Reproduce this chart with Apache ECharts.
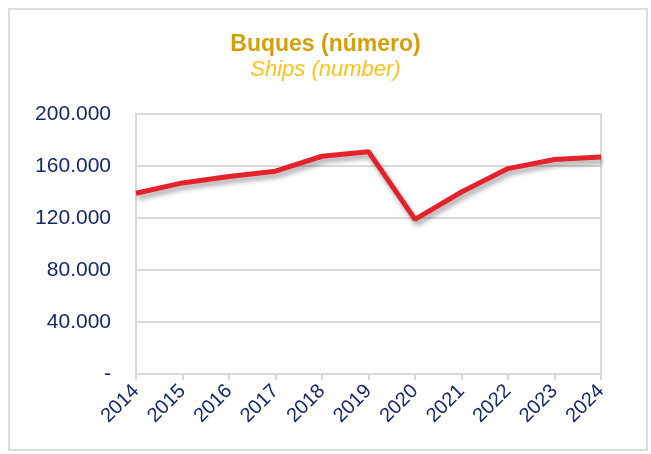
<!DOCTYPE html>
<html lang="es">
<head>
    <meta charset="UTF-8">
    <title>Buques (número)</title>
    <script src="https://cdn.jsdelivr.net/npm/echarts@6/dist/echarts.min.js"></script>
    <style>
        * { margin: 0; padding: 0; box-sizing: border-box; }
        body { background: #ffffff; }
        #chart { width: 651px; height: 454px; }
    </style>
</head>
<body>
    <div id="chart"></div>
    <script>
        // data
        const years = ['2014', '2015', '2016', '2017', '2018', '2019', '2020', '2021', '2022', '2023', '2024'];
        const ships = [139000, 147000, 152000, 156000, 167500, 171000, 119000, 140000, 158000, 165000, 167000];
        const yTicks = { min: 0, max: 200000, step: 40000 };

        const navy = '#13296b';
        const gridGrey = '#d9d9d9';

        // 160000 -> "160.000", 0 -> "-"
        function fmt(v) {
            if (v === 0) return '-';
            return String(v).replace(/\B(?=(\d{3})+(?!\d))/g, '.');
        }

        const chart = echarts.init(document.getElementById('chart'));
        chart.setOption({
            animation: false,
            title: {
                text: 'Buques (número)',
                subtext: 'Ships (number)',
                left: 'center',
                top: 28,
                itemGap: 3,
                textStyle: { fontFamily: 'Liberation Sans', fontSize: 23, fontWeight: 'bold', color: '#d39f0a' },
                subtextStyle: { fontFamily: 'Liberation Sans', fontSize: 22, fontStyle: 'italic', color: '#ffc21a' }
            },
            graphic: [{
                type: 'rect',
                shape: { x: 9, y: 9, width: 638, height: 441 },
                style: { fill: 'none', stroke: '#dcdcdc', lineWidth: 2 },
                silent: true
            }],
            grid: {
                left: 136, right: 50, top: 114, bottom: 80,
                show: true, borderColor: gridGrey, borderWidth: 2
            },
            xAxis: {
                type: 'category',
                data: years,
                boundaryGap: false,
                axisLine: { lineStyle: { color: gridGrey, width: 2 } },
                axisTick: { show: true, length: 6, lineStyle: { color: gridGrey, width: 2 } },
                axisLabel: {
                    rotate: 45, margin: 14, color: navy,
                    fontFamily: 'Liberation Sans', fontSize: 20
                }
            },
            yAxis: {
                type: 'value',
                min: yTicks.min, max: yTicks.max, interval: yTicks.step,
                axisLine: { show: false },
                axisTick: { show: false },
                splitLine: { lineStyle: { color: gridGrey, width: 2 } },
                axisLabel: {
                    margin: 25, color: navy,
                    fontFamily: 'Liberation Sans', fontSize: 21,
                    formatter: fmt
                }
            },
            series: [{
                type: 'line',
                data: ships,
                symbol: 'none',
                lineStyle: {
                    color: '#e5222b', width: 5,
                    shadowColor: 'rgba(0,0,0,0.35)', shadowBlur: 5,
                    shadowOffsetX: 2, shadowOffsetY: 4
                }
            }]
        });
    </script>
</body>
</html>
